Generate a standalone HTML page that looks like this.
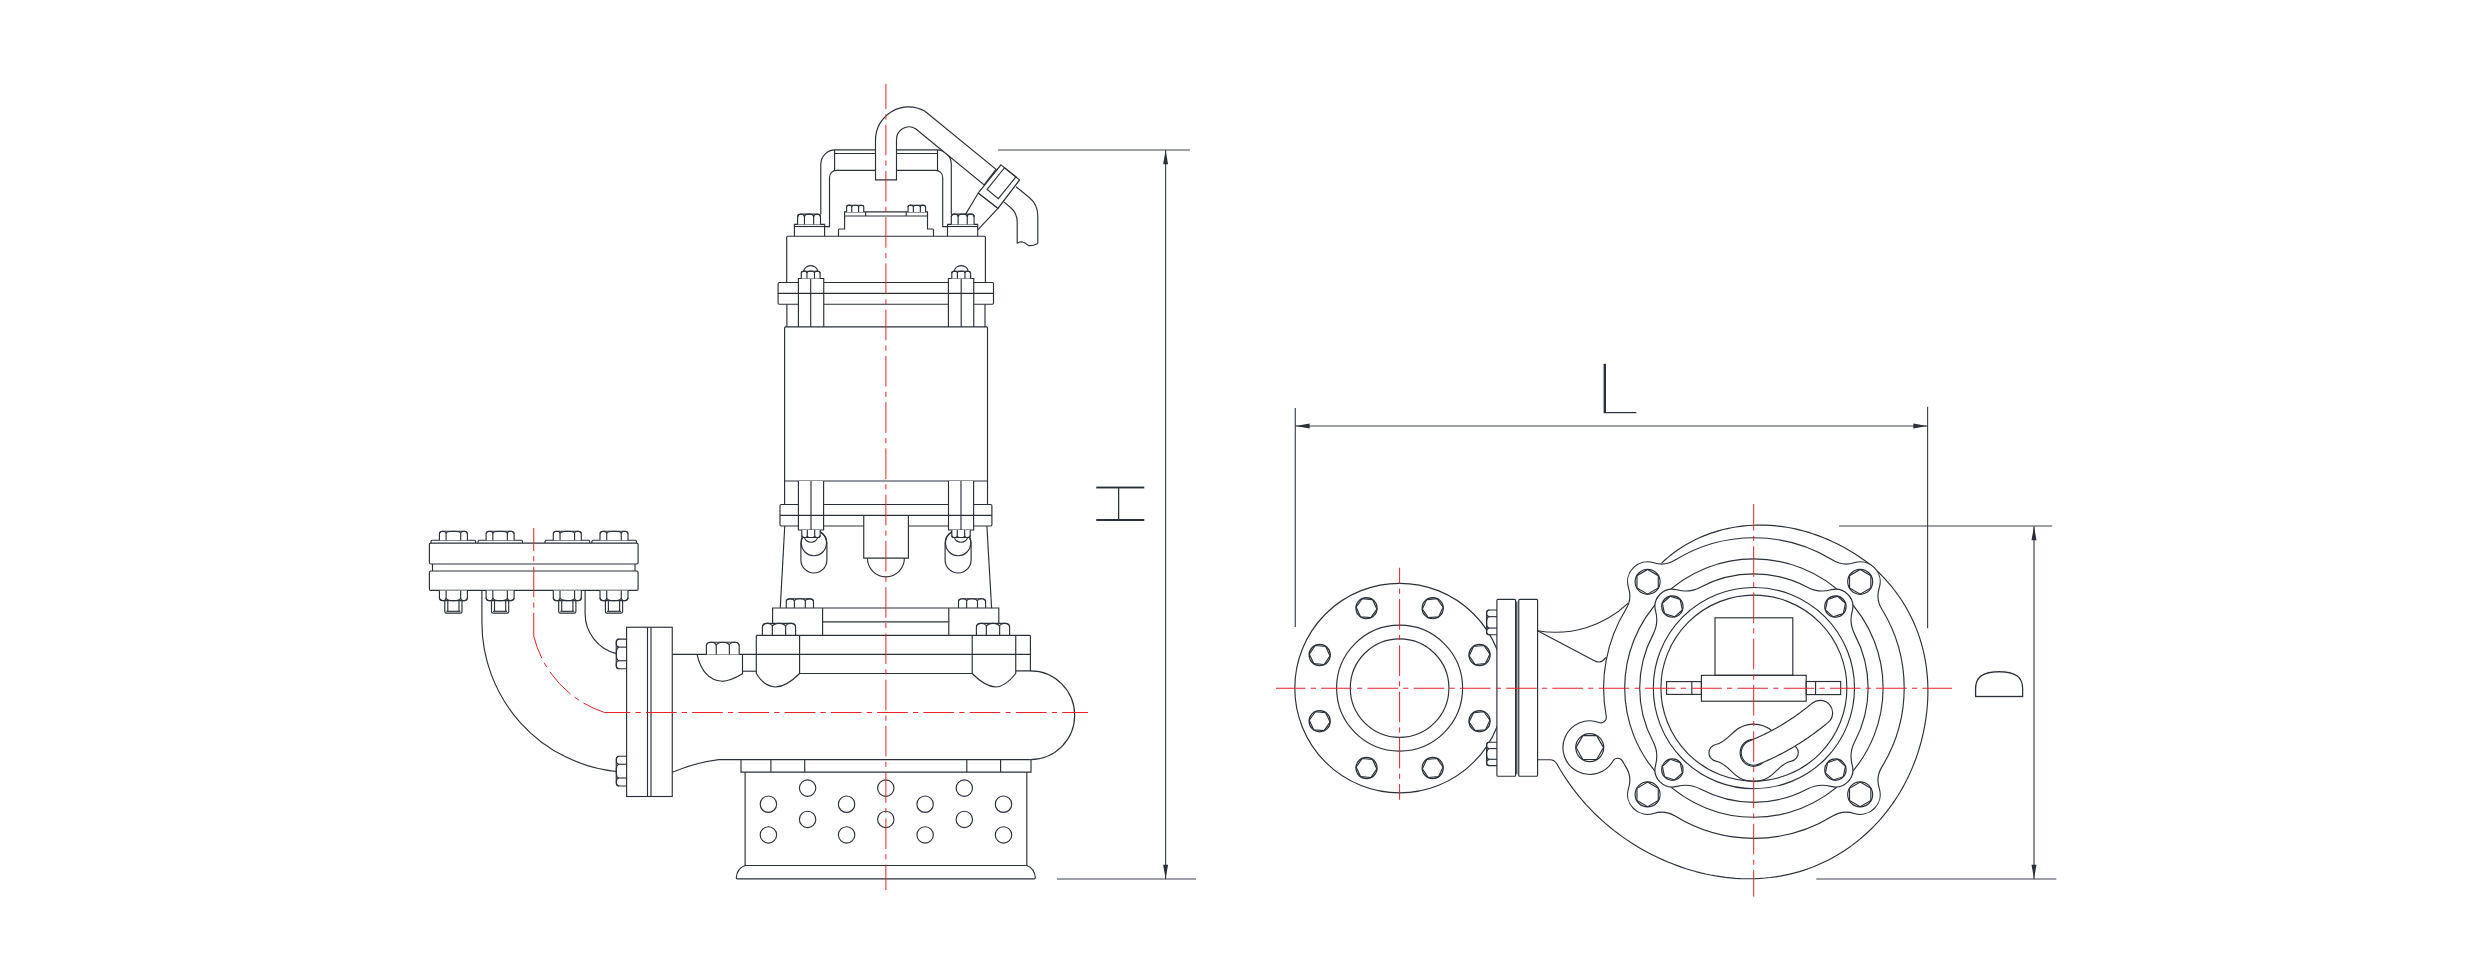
<!DOCTYPE html>
<html><head><meta charset="utf-8"><title>Pump dimensions</title>
<style>html,body{margin:0;padding:0;background:#fff}body{width:2488px;height:971px;overflow:hidden}svg{display:block}
text{font-family:"DejaVu Sans Light","DejaVu Sans","Liberation Sans",sans-serif;font-weight:200;fill:#2a3038;stroke:#fff;stroke-width:1.4px}</style></head>
<body>
<svg width="2488" height="971" viewBox="0 0 2488 971">
<g fill="none" stroke="#2a3038" stroke-width="1.15" stroke-linecap="butt">
<path d="M820.8,214.5 V164.2 A14.4,14.4 0 0 1 835.2,149.9 H936.9 A14.4,14.4 0 0 1 951.3,164.2 V214.5" fill="none"/>
<path d="M824.6,226.6 H829.5 V177.4 A7,7 0 0 1 836.5,170.4 H935.7 A7,7 0 0 1 942.7,177.4 V226.6 H947.5" fill="none"/>
<path d="M834.6,150L834.6,170.4" fill="none"/>
<path d="M937.5,150L937.5,170.4" fill="none"/>
<path d="M834.6,153.5L937.5,153.5" fill="none"/>
<path d="M1001,164.9 L978.3,193 L965.5,214.4" fill="none"/>
<path d="M1019.5,179.9 L997.9,208.3 L978,229.7" fill="none"/>
<path d="M978.3,193L997.9,208.3" fill="none"/>
<path d="M875.5,179.8 V140.3 A33,33 0 0 1 925,111.3 L996,169.3 L984.2,184.9 L915.6,128.75 A12.5,12.5 0 0 0 896.5,139.5 V179.8 Z" fill="white"/>
<path d="M1016,186.7 L1029,197.3 Q1037.8,204.5 1037.8,216 V243.4" fill="none"/>
<path d="M1003.8,201.9 L1010,207 Q1017.2,212.8 1017.2,222 V243.4" fill="none"/>
<path d="M1017.2,243.4 Q1019.5,241.3 1022.5,242 T1028.5,245.6 Q1033,246 1037.8,243.4" fill="none"/>
<path d="M1001,164.9 L1019.5,179.9 L997.9,208.3 L978.3,193 Z" fill="white" stroke-linejoin="round"/>
<path d="M1004.5,167.7 L1016,176.9 L998.3,198.6 L987.1,189.5 Z" fill="none"/>
<path d="M794.4,236.25 V224.4 H824.6 V236.25" fill="white"/>
<path d="M794.4,226.5L824.6,226.5" fill="none"/>
<path d="M797.6,224.4 V216.85 Q797.6,214.1 800.35,214.1 H817.75 Q820.5,214.1 820.5,216.85 V224.4" fill="white"/>
<path d="M797.6,216.98 A3.44,2.88 0 0 1 804.47,216.98" fill="none"/>
<path d="M804.47,216.98 A4.58,2.88 0 0 1 813.63,216.98" fill="none"/>
<path d="M813.63,216.98 A3.44,2.88 0 0 1 820.5,216.98" fill="none"/>
<path d="M804.47,224.4L804.47,216.98" fill="none"/>
<path d="M813.63,224.4L813.63,216.98" fill="none"/>
<path d="M947.5,236.25 V224.4 H977.7 V236.25" fill="white"/>
<path d="M947.5,226.5L977.7,226.5" fill="none"/>
<path d="M951.3,224.4 V216.84 Q951.3,214.1 954.04,214.1 H971.36 Q974.1,214.1 974.1,216.84 V224.4" fill="white"/>
<path d="M951.3,216.98 A3.42,2.88 0 0 1 958.14,216.98" fill="none"/>
<path d="M958.14,216.98 A4.56,2.88 0 0 1 967.26,216.98" fill="none"/>
<path d="M967.26,216.98 A3.42,2.88 0 0 1 974.1,216.98" fill="none"/>
<path d="M958.14,224.4L958.14,216.98" fill="none"/>
<path d="M967.26,224.4L967.26,216.98" fill="none"/>
<path d="M838.5,236.25 V230 Q838.5,229 839.5,229 H844.6 V211.9 H927.5 V229 H932.5 Q933.5,229 933.5,230 V236.25" fill="none"/>
<path d="M844.6,216L927.5,216" fill="none"/>
<path d="M865.6,211.9L865.6,216" fill="none"/>
<path d="M906.25,211.9L906.25,216" fill="none"/>
<path d="M846.6,211.9 V207.26 Q846.6,205.2 848.66,205.2 H861.69 Q863.75,205.2 863.75,207.26 V211.9" fill="white"/>
<path d="M846.6,207.08 A2.57,1.88 0 0 1 851.75,207.08" fill="none"/>
<path d="M851.75,207.08 A3.43,1.88 0 0 1 858.61,207.08" fill="none"/>
<path d="M858.61,207.08 A2.57,1.88 0 0 1 863.75,207.08" fill="none"/>
<path d="M851.75,211.9L851.75,207.08" fill="none"/>
<path d="M858.61,211.9L858.61,207.08" fill="none"/>
<path d="M908.1,211.9 V207.3 Q908.1,205.2 910.2,205.2 H923.5 Q925.6,205.2 925.6,207.3 V211.9" fill="white"/>
<path d="M908.1,207.08 A2.62,1.88 0 0 1 913.35,207.08" fill="none"/>
<path d="M913.35,207.08 A3.5,1.88 0 0 1 920.35,207.08" fill="none"/>
<path d="M920.35,207.08 A2.62,1.88 0 0 1 925.6,207.08" fill="none"/>
<path d="M913.35,211.9L913.35,207.08" fill="none"/>
<path d="M920.35,211.9L920.35,207.08" fill="none"/>
<path d="M786.7,282.5 V237.25 Q786.7,236.25 787.7,236.25 H984.4 Q985.4,236.25 985.4,237.25 V282.5" fill="none"/>
<rect x="778.1" y="282.5" width="215.4" height="21.7" rx="1.2" fill="none"/>
<path d="M786.9,304.2L786.9,326.9" fill="none"/>
<path d="M985,304.2L985,326.9" fill="none"/>
<path d="M798.4,326.9 V278.5 H823.75 V326.9" fill="white"/>
<path d="M810.7,278.5L810.7,326.9" fill="none"/>
<path d="M803.7,271.6 A7,6 0 0 1 817.7,271.6" fill="none"/>
<path d="M801.3,278.5 V273.46 Q801.3,271.2 803.56,271.2 H817.84 Q820.1,271.2 820.1,273.46 V278.5" fill="white"/>
<path d="M801.3,273.24 A2.82,2.04 0 0 1 806.94,273.24" fill="none"/>
<path d="M806.94,273.24 A3.76,2.04 0 0 1 814.46,273.24" fill="none"/>
<path d="M814.46,273.24 A2.82,2.04 0 0 1 820.1,273.24" fill="none"/>
<path d="M806.94,278.5L806.94,273.24" fill="none"/>
<path d="M814.46,278.5L814.46,273.24" fill="none"/>
<path d="M948.4,326.9 V278.5 H973.75 V326.9" fill="white"/>
<path d="M961.2,278.5L961.2,326.9" fill="none"/>
<path d="M954.2,271.6 A7,6 0 0 1 968.2,271.6" fill="none"/>
<path d="M951.8,278.5 V273.46 Q951.8,271.2 954.06,271.2 H968.34 Q970.6,271.2 970.6,273.46 V278.5" fill="white"/>
<path d="M951.8,273.24 A2.82,2.04 0 0 1 957.44,273.24" fill="none"/>
<path d="M957.44,273.24 A3.76,2.04 0 0 1 964.96,273.24" fill="none"/>
<path d="M964.96,273.24 A2.82,2.04 0 0 1 970.6,273.24" fill="none"/>
<path d="M957.44,278.5L957.44,273.24" fill="none"/>
<path d="M964.96,278.5L964.96,273.24" fill="none"/>
<path d="M778.1,293.3L993.5,293.3" fill="none"/>
<path d="M784.6,504.5 V327.9 Q784.6,326.9 785.6,326.9 H986.5 Q987.5,326.9 987.5,327.9 V504.5" fill="none"/>
<path d="M784.6,481L987.5,481" fill="none"/>
<path d="M800.9,543.1 A13,13 0 0 1 826.9,543.1 V560 A13,13 0 0 1 800.9,560 Z" fill="none"/>
<circle cx="813.9" cy="543.1" r="12.6" fill="none"/>
<path d="M945.1,543.1 A13,13 0 0 1 971.1,543.1 V560 A13,13 0 0 1 945.1,560 Z" fill="none"/>
<circle cx="958.1" cy="543.1" r="12.6" fill="none"/>
<rect x="780" y="504.5" width="211.9" height="21.5" rx="1.2" fill="white"/>
<path d="M863.75,515.4 V558.1 H908.4 V515.4" fill="white"/>
<path d="M867.4,558.1 A18.5,18.8 0 0 0 904.4,558.1" fill="none"/>
<path d="M798.4,481 V530 H823.6 V481" fill="white"/>
<path d="M811,481L811,530" fill="none"/>
<path d="M804.5,537.2 A6.5,5 0 0 0 817.5,537.2" fill="white"/>
<path d="M801.8,530 V535.29 Q801.8,537.5 804.01,537.5 H817.99 Q820.2,537.5 820.2,535.29 V530" fill="white"/>
<path d="M801.8,535.4 A2.76,2.1 0 0 0 807.32,535.4" fill="none"/>
<path d="M807.32,535.4 A3.68,2.1 0 0 0 814.68,535.4" fill="none"/>
<path d="M814.68,535.4 A2.76,2.1 0 0 0 820.2,535.4" fill="none"/>
<path d="M807.32,530L807.32,535.4" fill="none"/>
<path d="M814.68,530L814.68,535.4" fill="none"/>
<path d="M948.5,481 V530 H973.6 V481" fill="white"/>
<path d="M961,481L961,530" fill="none"/>
<path d="M954.5,537.2 A6.5,5 0 0 0 967.5,537.2" fill="white"/>
<path d="M951.8,530 V535.29 Q951.8,537.5 954.01,537.5 H967.99 Q970.2,537.5 970.2,535.29 V530" fill="white"/>
<path d="M951.8,535.4 A2.76,2.1 0 0 0 957.32,535.4" fill="none"/>
<path d="M957.32,535.4 A3.68,2.1 0 0 0 964.68,535.4" fill="none"/>
<path d="M964.68,535.4 A2.76,2.1 0 0 0 970.2,535.4" fill="none"/>
<path d="M957.32,530L957.32,535.4" fill="none"/>
<path d="M964.68,530L964.68,535.4" fill="none"/>
<path d="M780,515.4L991.9,515.4" fill="none"/>
<path d="M784.75,526L780.25,608.1" fill="none"/>
<path d="M986.9,526L991.6,608.1" fill="none"/>
<path d="M786.25,608 V602.02 Q786.25,598.75 789.52,598.75 H810.23 Q813.5,598.75 813.5,602.02 V608" fill="white"/>
<path d="M786.25,601.34 A4.09,2.59 0 0 1 794.42,601.34" fill="none"/>
<path d="M794.42,601.34 A5.45,2.59 0 0 1 805.33,601.34" fill="none"/>
<path d="M805.33,601.34 A4.09,2.59 0 0 1 813.5,601.34" fill="none"/>
<path d="M794.42,608L794.42,601.34" fill="none"/>
<path d="M805.33,608L805.33,601.34" fill="none"/>
<path d="M958.5,608 V602 Q958.5,598.75 961.75,598.75 H982.35 Q985.6,598.75 985.6,602 V608" fill="white"/>
<path d="M958.5,601.34 A4.06,2.59 0 0 1 966.63,601.34" fill="none"/>
<path d="M966.63,601.34 A5.42,2.59 0 0 1 977.47,601.34" fill="none"/>
<path d="M977.47,601.34 A4.06,2.59 0 0 1 985.6,601.34" fill="none"/>
<path d="M966.63,608L966.63,601.34" fill="none"/>
<path d="M977.47,608L977.47,601.34" fill="none"/>
<path d="M772.6,623.5 V608 H998.8 V623.5" fill="none"/>
<path d="M822.6,608L822.6,635.4" fill="none"/>
<path d="M948.8,608L948.8,635.4" fill="none"/>
<path d="M822.6,621.8L948.8,621.8" fill="none"/>
<path d="M762.4,635.4 V627.38 Q762.4,623.4 766.38,623.4 H791.62 Q795.6,623.4 795.6,627.38 V635.4" fill="white"/>
<path d="M762.4,626.76 A4.98,3.36 0 0 1 772.36,626.76" fill="none"/>
<path d="M772.36,626.76 A6.64,3.36 0 0 1 785.64,626.76" fill="none"/>
<path d="M785.64,626.76 A4.98,3.36 0 0 1 795.6,626.76" fill="none"/>
<path d="M772.36,635.4L772.36,626.76" fill="none"/>
<path d="M785.64,635.4L785.64,626.76" fill="none"/>
<path d="M976.4,635.4 V627.38 Q976.4,623.4 980.38,623.4 H1005.62 Q1009.6,623.4 1009.6,627.38 V635.4" fill="white"/>
<path d="M976.4,626.76 A4.98,3.36 0 0 1 986.36,626.76" fill="none"/>
<path d="M986.36,626.76 A6.64,3.36 0 0 1 999.64,626.76" fill="none"/>
<path d="M999.64,626.76 A4.98,3.36 0 0 1 1009.6,626.76" fill="none"/>
<path d="M986.36,635.4L986.36,626.76" fill="none"/>
<path d="M999.64,635.4L999.64,626.76" fill="none"/>
<path d="M756.3,635.4L1030.4,635.4" fill="none"/>
<path d="M756.3,635.4 V673.5 Q764,686.5 775.4,687 Q786,687 799.6,673.5 V635.4" fill="none"/>
<path d="M972.2,635.4 V673.5 Q985,686.5 995.8,687 Q1005,687 1015.75,673.5 V635.4" fill="none"/>
<path d="M672.25,654.4L1030.4,654.4" fill="none"/>
<path d="M799.6,673.5L972.2,673.5" fill="none"/>
<path d="M1030.4,635.4 V670.9 H1015.75" fill="none"/>
<path d="M1030.4,670.9 A44.35,44.35 0 0 1 1030.4,759.6" fill="none"/>
<path d="M672.25,772.25 Q697,762 718.75,759.6 H1030.4" fill="none"/>
<path d="M706.4,654.4 V646.14 Q706.4,642.2 710.34,642.2 H735.26 Q739.2,642.2 739.2,646.14 V654.4" fill="white"/>
<path d="M706.4,645.62 A4.92,3.42 0 0 1 716.24,645.62" fill="none"/>
<path d="M716.24,645.62 A6.56,3.42 0 0 1 729.36,645.62" fill="none"/>
<path d="M729.36,645.62 A4.92,3.42 0 0 1 739.2,645.62" fill="none"/>
<path d="M716.24,654.4L716.24,645.62" fill="none"/>
<path d="M729.36,654.4L729.36,645.62" fill="none"/>
<path d="M697,654.4 Q703,680 722,681.3 Q730,681.3 742.5,673.8 V654.4" fill="none"/>
<path d="M742.5,671.2L756.3,671.2" fill="none"/>
<path d="M626.6,639.1 H619.22 Q616.25,639.1 616.25,642.07 V665.78 Q616.25,668.75 619.22,668.75 H626.6" fill="white"/>
<path d="M619.15,639.1 A2.9,4 0 0 0 619.15,647.11" fill="none"/>
<path d="M619.15,647.11 A2.9,6.82 0 0 0 619.15,660.74" fill="none"/>
<path d="M619.15,660.74 A2.9,4 0 0 0 619.15,668.75" fill="none"/>
<path d="M626.6,647.11L619.15,647.11" fill="none"/>
<path d="M626.6,660.74L619.15,660.74" fill="none"/>
<path d="M626.6,756.25 H619.23 Q616.25,756.25 616.25,759.23 V783.02 Q616.25,786 619.23,786 H626.6" fill="white"/>
<path d="M619.15,756.25 A2.9,4.02 0 0 0 619.15,764.28" fill="none"/>
<path d="M619.15,764.28 A2.9,6.84 0 0 0 619.15,777.97" fill="none"/>
<path d="M619.15,777.97 A2.9,4.02 0 0 0 619.15,786" fill="none"/>
<path d="M626.6,764.28L619.15,764.28" fill="none"/>
<path d="M626.6,777.97L619.15,777.97" fill="none"/>
<rect x="626.6" y="627.25" width="45.65" height="169.25" fill="none"/>
<path d="M647.5,627.25L647.5,796.5" fill="none"/>
<path d="M651,627.25L651,796.5" fill="none"/>
<path d="M481.9,590.4 V622.5 A150,150 0 0 0 616.25,771.5" fill="none"/>
<path d="M585.1,590.4 V613.4 A41.5,41.5 0 0 0 616.3,653.6" fill="none"/>
<rect x="429.4" y="543.1" width="208.7" height="20.9" rx="1.5" fill="none"/>
<path d="M432.5,564L432.5,571" fill="none"/>
<path d="M635,564L635,571" fill="none"/>
<rect x="429.4" y="571" width="208.7" height="19.4" rx="1.5" fill="none"/>
<path d="M431,543.1 V541.5 Q431,540.25 432.2,540.25 H474.4 Q475.6,540.25 475.6,541.5 V543.1" fill="none"/>
<path d="M478.1,543.1 V541.5 Q478.1,540.25 479.3,540.25 H521.3 Q522.5,540.25 522.5,541.5 V543.1" fill="none"/>
<path d="M545,543.1 V541.5 Q545,540.25 546.2,540.25 H588.55 Q589.75,540.25 589.75,541.5 V543.1" fill="none"/>
<path d="M591.9,543.1 V541.5 Q591.9,540.25 593.1,540.25 H635.3 Q636.5,540.25 636.5,541.5 V543.1" fill="none"/>
<path d="M439.4,540.25 V534.61 Q439.4,531.25 442.76,531.25 H464.04 Q467.4,531.25 467.4,534.61 V540.25" fill="white"/>
<path d="M439.4,533.77 A3.36,2.52 0 0 1 446.12,533.77" fill="none"/>
<path d="M446.12,533.77 A7.28,2.52 0 0 1 460.68,533.77" fill="none"/>
<path d="M460.68,533.77 A3.36,2.52 0 0 1 467.4,533.77" fill="none"/>
<path d="M446.12,540.25L446.12,533.77" fill="none"/>
<path d="M460.68,540.25L460.68,533.77" fill="none"/>
<path d="M439.4,590.4 V597.24 Q439.4,600.6 442.76,600.6 H464.04 Q467.4,600.6 467.4,597.24 V590.4" fill="white"/>
<path d="M439.4,597.74 A3.36,2.86 0 0 0 446.12,597.74" fill="none"/>
<path d="M446.12,597.74 A7.28,2.86 0 0 0 460.68,597.74" fill="none"/>
<path d="M460.68,597.74 A3.36,2.86 0 0 0 467.4,597.74" fill="none"/>
<path d="M446.12,590.4L446.12,597.74" fill="none"/>
<path d="M460.68,590.4L460.68,597.74" fill="none"/>
<path d="M444.8,600.6 V611.5 Q444.8,613.1 446.4,613.1 H460.4 Q462,613.1 462,611.5 V600.6" fill="none"/>
<path d="M447.8,600.6L447.8,611.3" fill="none"/>
<path d="M459,600.6L459,611.3" fill="none"/>
<path d="M446.4,611.3L460.4,611.3" fill="none"/>
<path d="M486.1,540.25 V534.61 Q486.1,531.25 489.46,531.25 H510.74 Q514.1,531.25 514.1,534.61 V540.25" fill="white"/>
<path d="M486.1,533.77 A3.36,2.52 0 0 1 492.82,533.77" fill="none"/>
<path d="M492.82,533.77 A7.28,2.52 0 0 1 507.38,533.77" fill="none"/>
<path d="M507.38,533.77 A3.36,2.52 0 0 1 514.1,533.77" fill="none"/>
<path d="M492.82,540.25L492.82,533.77" fill="none"/>
<path d="M507.38,540.25L507.38,533.77" fill="none"/>
<path d="M486.1,590.4 V597.24 Q486.1,600.6 489.46,600.6 H510.74 Q514.1,600.6 514.1,597.24 V590.4" fill="white"/>
<path d="M486.1,597.74 A3.36,2.86 0 0 0 492.82,597.74" fill="none"/>
<path d="M492.82,597.74 A7.28,2.86 0 0 0 507.38,597.74" fill="none"/>
<path d="M507.38,597.74 A3.36,2.86 0 0 0 514.1,597.74" fill="none"/>
<path d="M492.82,590.4L492.82,597.74" fill="none"/>
<path d="M507.38,590.4L507.38,597.74" fill="none"/>
<path d="M491.5,600.6 V611.5 Q491.5,613.1 493.1,613.1 H507.1 Q508.7,613.1 508.7,611.5 V600.6" fill="none"/>
<path d="M494.5,600.6L494.5,611.3" fill="none"/>
<path d="M505.7,600.6L505.7,611.3" fill="none"/>
<path d="M493.1,611.3L507.1,611.3" fill="none"/>
<path d="M553.3,540.25 V534.61 Q553.3,531.25 556.66,531.25 H577.94 Q581.3,531.25 581.3,534.61 V540.25" fill="white"/>
<path d="M553.3,533.77 A3.36,2.52 0 0 1 560.02,533.77" fill="none"/>
<path d="M560.02,533.77 A7.28,2.52 0 0 1 574.58,533.77" fill="none"/>
<path d="M574.58,533.77 A3.36,2.52 0 0 1 581.3,533.77" fill="none"/>
<path d="M560.02,540.25L560.02,533.77" fill="none"/>
<path d="M574.58,540.25L574.58,533.77" fill="none"/>
<path d="M553.3,590.4 V597.24 Q553.3,600.6 556.66,600.6 H577.94 Q581.3,600.6 581.3,597.24 V590.4" fill="white"/>
<path d="M553.3,597.74 A3.36,2.86 0 0 0 560.02,597.74" fill="none"/>
<path d="M560.02,597.74 A7.28,2.86 0 0 0 574.58,597.74" fill="none"/>
<path d="M574.58,597.74 A3.36,2.86 0 0 0 581.3,597.74" fill="none"/>
<path d="M560.02,590.4L560.02,597.74" fill="none"/>
<path d="M574.58,590.4L574.58,597.74" fill="none"/>
<path d="M558.7,600.6 V611.5 Q558.7,613.1 560.3,613.1 H574.3 Q575.9,613.1 575.9,611.5 V600.6" fill="none"/>
<path d="M561.7,600.6L561.7,611.3" fill="none"/>
<path d="M572.9,600.6L572.9,611.3" fill="none"/>
<path d="M560.3,611.3L574.3,611.3" fill="none"/>
<path d="M600,540.25 V534.61 Q600,531.25 603.36,531.25 H624.64 Q628,531.25 628,534.61 V540.25" fill="white"/>
<path d="M600,533.77 A3.36,2.52 0 0 1 606.72,533.77" fill="none"/>
<path d="M606.72,533.77 A7.28,2.52 0 0 1 621.28,533.77" fill="none"/>
<path d="M621.28,533.77 A3.36,2.52 0 0 1 628,533.77" fill="none"/>
<path d="M606.72,540.25L606.72,533.77" fill="none"/>
<path d="M621.28,540.25L621.28,533.77" fill="none"/>
<path d="M600,590.4 V597.24 Q600,600.6 603.36,600.6 H624.64 Q628,600.6 628,597.24 V590.4" fill="white"/>
<path d="M600,597.74 A3.36,2.86 0 0 0 606.72,597.74" fill="none"/>
<path d="M606.72,597.74 A7.28,2.86 0 0 0 621.28,597.74" fill="none"/>
<path d="M621.28,597.74 A3.36,2.86 0 0 0 628,597.74" fill="none"/>
<path d="M606.72,590.4L606.72,597.74" fill="none"/>
<path d="M621.28,590.4L621.28,597.74" fill="none"/>
<path d="M605.4,600.6 V611.5 Q605.4,613.1 607,613.1 H621 Q622.6,613.1 622.6,611.5 V600.6" fill="none"/>
<path d="M608.4,600.6L608.4,611.3" fill="none"/>
<path d="M619.6,600.6L619.6,611.3" fill="none"/>
<path d="M607,611.3L621,611.3" fill="none"/>
<path d="M741,759.75 V772.1 H1031 V759.75" fill="none"/>
<path d="M770.9,759.75L770.9,772.1" fill="none"/>
<path d="M804.7,759.75L804.7,772.1" fill="none"/>
<path d="M966.8,759.75L966.8,772.1" fill="none"/>
<path d="M1000.6,759.75L1000.6,772.1" fill="none"/>
<path d="M745.1,772.1 V865.5 H1026.8 V772.1" fill="none"/>
<path d="M745.1,865.5 Q736.8,868.5 736.3,877.8 Q736.3,878.8 737.3,878.8 H1034.3 Q1035.3,878.8 1035.3,877.8 Q1034.8,868.5 1026.8,865.5" fill="none"/>
<circle cx="807.6" cy="788.1" r="8.2" fill="none"/>
<circle cx="885.8" cy="788.1" r="8.2" fill="none"/>
<circle cx="964.3" cy="788.1" r="8.2" fill="none"/>
<circle cx="768.4" cy="804.2" r="8.2" fill="none"/>
<circle cx="846.6" cy="804.2" r="8.2" fill="none"/>
<circle cx="925.1" cy="804.2" r="8.2" fill="none"/>
<circle cx="1003.5" cy="804.2" r="8.2" fill="none"/>
<circle cx="807.6" cy="819.4" r="8.2" fill="none"/>
<circle cx="885.8" cy="819.4" r="8.2" fill="none"/>
<circle cx="964.3" cy="819.4" r="8.2" fill="none"/>
<circle cx="768.4" cy="834.9" r="8.2" fill="none"/>
<circle cx="846.6" cy="834.9" r="8.2" fill="none"/>
<circle cx="925.1" cy="834.9" r="8.2" fill="none"/>
<circle cx="1003.5" cy="834.9" r="8.2" fill="none"/>
<circle cx="1399.6" cy="688.1" r="104.8" fill="none"/>
<path d="M1496.9,610 H1489.07 Q1486.6,610 1486.6,612.48 V632.27 Q1486.6,634.75 1489.07,634.75 H1496.9" fill="white"/>
<path d="M1489.48,610 A2.88,3.34 0 0 0 1489.48,616.68" fill="none"/>
<path d="M1489.48,616.68 A2.88,5.69 0 0 0 1489.48,628.07" fill="none"/>
<path d="M1489.48,628.07 A2.88,3.34 0 0 0 1489.48,634.75" fill="none"/>
<path d="M1496.9,616.68L1489.48,616.68" fill="none"/>
<path d="M1496.9,628.07L1489.48,628.07" fill="none"/>
<path d="M1496.9,742.25 H1488.93 Q1486.6,742.25 1486.6,744.59 V763.26 Q1486.6,765.6 1488.93,765.6 H1496.9" fill="white"/>
<path d="M1489.48,742.25 A2.88,3.15 0 0 0 1489.48,748.55" fill="none"/>
<path d="M1489.48,748.55 A2.88,5.37 0 0 0 1489.48,759.3" fill="none"/>
<path d="M1489.48,759.3 A2.88,3.15 0 0 0 1489.48,765.6" fill="none"/>
<path d="M1496.9,748.55L1489.48,748.55" fill="none"/>
<path d="M1496.9,759.3L1489.48,759.3" fill="none"/>
<rect x="1496.9" y="599.4" width="18.7" height="176.85" rx="1" fill="white"/>
<rect x="1518.75" y="599.4" width="18.85" height="176.85" rx="1" fill="white"/>
<path d="M1516.8,601.5L1516.8,774.2" fill="none"/>
<circle cx="1399.6" cy="688.1" r="63" fill="none"/>
<circle cx="1399.6" cy="688.1" r="49.3" fill="none"/>
<circle cx="1479.52" cy="721.2" r="10.6" fill="none"/>
<path d="M1489.92,720.29L1485.5,729.75L1475.1,730.66L1469.11,722.11L1473.53,712.65L1483.93,711.74Z" fill="none"/>
<circle cx="1432.7" cy="768.02" r="10.6" fill="none"/>
<path d="M1443.1,767.11L1438.69,776.57L1428.29,777.48L1422.3,768.93L1426.71,759.46L1437.11,758.55Z" fill="none"/>
<circle cx="1366.5" cy="768.02" r="10.6" fill="none"/>
<path d="M1376.9,768.93L1370.91,777.48L1360.51,776.57L1356.1,767.11L1362.09,758.55L1372.49,759.46Z" fill="none"/>
<circle cx="1319.68" cy="721.2" r="10.6" fill="none"/>
<path d="M1330.09,722.11L1324.1,730.66L1313.7,729.75L1309.28,720.29L1315.27,711.74L1325.67,712.65Z" fill="none"/>
<circle cx="1319.68" cy="655" r="10.6" fill="none"/>
<path d="M1330.09,655.91L1324.1,664.46L1313.7,663.55L1309.28,654.09L1315.27,645.54L1325.67,646.45Z" fill="none"/>
<circle cx="1366.5" cy="608.18" r="10.6" fill="none"/>
<path d="M1376.9,609.09L1370.91,617.65L1360.51,616.74L1356.1,607.27L1362.09,598.72L1372.49,599.63Z" fill="none"/>
<circle cx="1432.7" cy="608.18" r="10.6" fill="none"/>
<path d="M1443.1,607.27L1438.69,616.74L1428.29,617.65L1422.3,609.09L1426.71,599.63L1437.11,598.72Z" fill="none"/>
<circle cx="1479.52" cy="655" r="10.6" fill="none"/>
<path d="M1489.92,654.09L1485.5,663.55L1475.1,664.46L1469.11,655.91L1473.53,646.45L1483.93,645.54Z" fill="none"/>
<path d="M1661.59,563.09 L1664.6,560.29 L1667.71,557.59 L1670.91,554.99 L1674.2,552.48 L1677.57,550.07 L1681.02,547.76 L1684.55,545.55 L1688.16,543.45 L1691.83,541.46 L1695.57,539.58 L1699.37,537.81 L1703.23,536.14 L1707.14,534.6 L1711.1,533.16 L1715.11,531.84 L1719.16,530.64 L1723.25,529.55 L1727.37,528.58 L1731.53,527.73 L1735.71,526.99 L1739.92,526.37 L1744.14,525.87 L1748.39,525.49 L1752.64,525.22 L1756.91,525.07 L1761.18,525.04 L1765.46,525.12 L1769.74,525.32 L1774.02,525.63 L1778.29,526.06 L1782.55,526.59 L1786.8,527.25 L1791.03,528.01 L1795.25,528.88 L1799.45,529.86 L1803.62,530.95 L1807.78,532.14 L1811.9,533.44 L1816,534.84 L1820.07,536.34 L1824.11,537.93 L1828.11,539.62 L1832.09,541.41 L1836.02,543.29 L1839.93,545.26 L1843.79,547.31 L1847.62,549.46 L1851.41,551.69 L1855.16,554 L1858.87,556.41 L1862.51,558.92 L1866.08,561.56 L1869.56,564.32 L1872.95,567.2 L1876.25,570.18 L1879.48,573.26 L1882.62,576.43 L1885.68,579.69 L1888.65,583.04 L1891.53,586.47 L1894.32,589.99 L1897.01,593.58 L1899.6,597.26 L1902.1,601.01 L1904.49,604.83 L1906.77,608.72 L1908.94,612.67 L1911.01,616.69 L1912.96,620.77 L1914.79,624.91 L1916.51,629.1 L1918.1,633.34 L1919.58,637.63 L1920.93,641.96 L1922.16,646.33 L1923.27,650.73 L1924.26,655.16 L1925.13,659.62 L1925.88,664.11 L1926.51,668.61 L1927.02,673.13 L1927.41,677.66 L1927.69,682.21 L1927.85,686.76 L1927.9,691.31 L1927.83,695.87 L1927.66,700.43 L1927.37,704.98 L1926.98,709.53 L1926.48,714.07 L1925.87,718.6 L1925.17,723.12 L1924.35,727.63 L1923.44,732.13 L1922.43,736.61 L1921.32,741.07 L1920.1,745.52 L1918.79,749.94 L1917.37,754.34 L1915.84,758.71 L1914.21,763.05 L1912.48,767.37 L1910.64,771.64 L1908.7,775.89 L1906.65,780.09 L1904.49,784.25 L1902.23,788.37 L1899.86,792.43 L1897.38,796.45 L1894.8,800.41 L1892.11,804.31 L1889.32,808.15 L1886.42,811.93 L1883.42,815.64 L1880.32,819.27 L1877.11,822.84 L1873.81,826.32 L1870.4,829.72 L1866.9,833.03 L1863.3,836.26 L1859.61,839.39 L1855.82,842.43 L1851.95,845.37 L1847.99,848.2 L1843.94,850.92 L1839.81,853.54 L1835.6,856.04 L1831.31,858.43 L1826.95,860.69 L1822.52,862.83 L1818.03,864.84 L1813.47,866.73 L1808.85,868.48 L1804.17,870.1 L1799.45,871.58 L1794.68,872.92 L1789.86,874.12 L1785.01,875.18 L1780.13,876.1 L1775.22,876.89 L1770.28,877.53 L1765.33,878.05 L1760.35,878.42 L1755.37,878.66 L1750.38,878.77 L1745.38,878.75 L1740.39,878.59 L1735.39,878.31 L1730.4,877.89 L1725.42,877.36 L1720.45,876.69 L1715.49,875.91 L1710.55,875 L1705.63,873.97 L1700.73,872.83 L1695.85,871.57 L1690.99,870.19 L1686.17,868.71 L1681.37,867.11 L1676.6,865.4 L1671.85,863.58 L1667.15,861.66 L1662.47,859.64 L1657.83,857.5 L1653.23,855.27 L1648.66,852.93 L1644.14,850.48 L1639.65,847.92 L1635.22,845.26 L1630.83,842.5 L1626.5,839.62 L1622.21,836.64 L1617.99,833.55 L1613.82,830.36 L1609.72,827.06 L1605.67,823.65 L1601.7,820.13 L1597.8,816.52 L1593.97,812.79 L1590.22,808.96 L1586.54,805.03 L1582.96,801 L1579.45,796.86 L1576.04,792.63 L1572.72,788.29 L1569.49,783.86 L1566.37,779.33 L1563.35,774.71 L1560.43,769.99 L1557.62,765.19 L1556.83,763.78 Q1554.3,759.75 1550,759.75 H1537.6" fill="none" stroke-linejoin="round"/>
<path d="M1537.6,630.7 A105.5,105.5 0 0 0 1628.2,603.2" fill="none"/>
<path d="M1537.6,630.7 L1593.4,660.2 Q1599.5,663.6 1603,660.5 L1605.9,657.5" fill="none"/>
<path d="M1625.9,609.32 A26,26 0 0 0 1628.55,587.85 A20,20 0 0 1 1653.65,562.75 A26,26 0 0 0 1675.12,560.1 A150.3,150.3 0 0 1 1832.68,560.1 A26,26 0 0 0 1854.15,562.75 A20,20 0 0 1 1879.25,587.85 A26,26 0 0 0 1881.9,609.32 A150.3,150.3 0 0 1 1881.9,766.88 A26,26 0 0 0 1879.25,788.35 A20,20 0 0 1 1854.15,813.45 A26,26 0 0 0 1832.68,816.1 A150.3,150.3 0 0 1 1675.12,816.1 A26,26 0 0 0 1653.65,813.45 A20,20 0 0 1 1628.55,788.35 A26,26 0 0 0 1625.9,766.88 A150.3,150.3 0 0 1 1622.52,761.1 A5.5,5.5 0 0 0 1612.95,761.02 A26.8,26.8 0 1 1 1598.96,722.43 A5.5,5.5 0 0 0 1606.26,716.24 A150.3,150.3 0 0 1 1625.9,609.32Z" fill="white"/>
<circle cx="1753.9" cy="688.1" r="129.2" fill="none"/>
<path d="M1653,634.61 A32,32 0 0 0 1655.59,611.17 A17.4,17.4 0 0 1 1676.97,589.79 A32,32 0 0 0 1700.41,587.2 A114.2,114.2 0 0 1 1807.39,587.2 A32,32 0 0 0 1830.83,589.79 A17.4,17.4 0 0 1 1852.21,611.17 A32,32 0 0 0 1854.8,634.61 A114.2,114.2 0 0 1 1854.8,741.59 A32,32 0 0 0 1852.21,765.03 A17.4,17.4 0 0 1 1830.83,786.41 A32,32 0 0 0 1807.39,789 A114.2,114.2 0 0 1 1700.41,789 A32,32 0 0 0 1676.97,786.41 A17.4,17.4 0 0 1 1655.59,765.03 A32,32 0 0 0 1653,741.59 A114.2,114.2 0 0 1 1653,634.61Z" fill="white"/>
<circle cx="1753.9" cy="688.1" r="100.6" fill="none"/>
<circle cx="1753.9" cy="688.1" r="93" fill="none"/>
<circle cx="1647.62" cy="581.82" r="12.5" fill="none"/>
<path d="M1647.62,569.51L1658.28,575.67L1658.28,587.98L1647.62,594.13L1636.96,587.98L1636.96,575.67Z" fill="none"/>
<circle cx="1672.37" cy="606.57" r="10.7" fill="none"/>
<path d="M1682.39,609.83L1674.56,616.88L1664.54,613.62L1662.35,603.31L1670.18,596.26L1680.2,599.52Z" fill="none"/>
<circle cx="1860.18" cy="581.82" r="12.5" fill="none"/>
<path d="M1860.18,569.51L1870.84,575.67L1870.84,587.98L1860.18,594.13L1849.52,587.98L1849.52,575.67Z" fill="none"/>
<circle cx="1835.43" cy="606.57" r="10.7" fill="none"/>
<path d="M1845.45,603.31L1843.26,613.62L1833.24,616.88L1825.41,609.83L1827.6,599.52L1837.62,596.26Z" fill="none"/>
<circle cx="1860.18" cy="794.38" r="12.5" fill="none"/>
<path d="M1860.18,782.07L1870.84,788.22L1870.84,800.53L1860.18,806.69L1849.52,800.53L1849.52,788.22Z" fill="none"/>
<circle cx="1835.43" cy="769.63" r="10.7" fill="none"/>
<path d="M1845.45,766.37L1843.26,776.68L1833.24,779.94L1825.41,772.89L1827.6,762.58L1837.62,759.32Z" fill="none"/>
<circle cx="1647.62" cy="794.38" r="12.5" fill="none"/>
<path d="M1647.62,782.07L1658.28,788.22L1658.28,800.53L1647.62,806.69L1636.96,800.53L1636.96,788.22Z" fill="none"/>
<circle cx="1672.37" cy="769.63" r="10.7" fill="none"/>
<path d="M1682.39,772.89L1674.56,779.94L1664.54,776.68L1662.35,766.37L1670.18,759.32L1680.2,762.58Z" fill="none"/>
<circle cx="1589.75" cy="747.6" r="14" fill="none"/>
<path d="M1603.54,747.6L1596.64,759.54L1582.86,759.54L1575.96,747.6L1582.86,735.66L1596.64,735.66Z" fill="none"/>
<rect x="1715" y="617.8" width="77.8" height="57.5" fill="none"/>
<rect x="1701.4" y="675.3" width="104.8" height="25.9" fill="none"/>
<rect x="1666.6" y="681.6" width="34.8" height="12.8" fill="none"/>
<path d="M1691.8,681.6L1691.8,694.4" fill="none"/>
<rect x="1806.2" y="681.5" width="34.5" height="13.1" fill="none"/>
<path d="M1815.6,681.5L1815.6,694.6" fill="none"/>
<path d="M1734.4,731.47 A28.7,28.7 0 0 1 1772.8,731.47 C1778.75,736.82 1783.48,743.14 1791.36,744.53 A8.4,8.4 0 0 1 1791.36,761.07 C1783.48,762.46 1778.75,768.78 1772.8,774.13 A28.7,28.7 0 0 1 1734.4,774.13 C1728.45,768.78 1723.72,762.46 1715.84,761.07 A8.4,8.4 0 0 1 1715.84,744.53 C1723.72,743.14 1728.45,736.82 1734.4,731.47Z" fill="none"/>
<circle cx="1753.6" cy="752.8" r="13.5" fill="none"/>
<path d="M1748.92,741.21 L1750.63,740.51 L1752.34,739.8 L1754.04,739.07 L1755.74,738.33 L1757.43,737.57 L1759.12,736.81 L1760.8,736.03 L1762.47,735.23 L1764.14,734.43 L1765.8,733.61 L1767.45,732.77 L1769.1,731.93 L1770.74,731.07 L1772.37,730.2 L1774,729.31 L1775.62,728.42 L1777.23,727.51 L1778.84,726.58 L1780.44,725.65 L1782.03,724.7 L1783.61,723.74 L1785.19,722.77 L1786.76,721.78 L1788.32,720.79 L1789.87,719.78 L1791.41,718.76 L1792.95,717.72 L1794.48,716.68 L1796,715.62 L1797.51,714.55 L1799.01,713.47 L1800.51,712.38 L1802,711.27 L1803.47,710.16 L1804.94,709.03 L1806.4,707.89 L1807.85,706.74 L1809.29,705.57 L1810.73,704.4 L1812.15,703.22 A12.5,12.5 0 0 1 1828.22,722.37 L1826.65,723.68 L1825.06,724.98 L1823.47,726.26 L1821.86,727.53 L1820.25,728.79 L1818.62,730.04 L1816.99,731.28 L1815.34,732.5 L1813.69,733.71 L1812.03,734.9 L1810.36,736.09 L1808.68,737.26 L1806.98,738.41 L1805.29,739.56 L1803.58,740.69 L1801.86,741.8 L1800.13,742.9 L1798.4,743.99 L1796.66,745.07 L1794.9,746.13 L1793.14,747.18 L1791.38,748.21 L1789.6,749.23 L1787.82,750.24 L1786.03,751.23 L1784.23,752.21 L1782.42,753.17 L1780.6,754.12 L1778.78,755.06 L1776.95,755.98 L1775.12,756.89 L1773.27,757.78 L1771.42,758.66 L1769.56,759.52 L1767.7,760.37 L1765.83,761.2 L1763.95,762.02 L1762.07,762.83 L1760.18,763.62 L1758.28,764.39 A12.5,12.5 0 0 1 1748.92,741.21 Z" fill="white" stroke-linejoin="round"/>
</g>
<g fill="none" stroke="#3d434b" stroke-width="1.15">
<path d="M998,150H1190"/>
<path d="M1057,879H1196"/>
<path d="M1165.6,150V879"/>
<path d="M1165.6,150.3L1168.1,164.3L1163.1,164.3Z" fill="#2a3038" stroke="none"/>
<path d="M1165.6,878.7L1163.1,864.7L1168.1,864.7Z" fill="#2a3038" stroke="none"/>
<path d="M1295.3,407.9V627.1"/>
<path d="M1927.6,406.8V628.2"/>
<path d="M1295.3,426H1927.6"/>
<path d="M1295.6,426L1309.6,423.5L1309.6,428.5Z" fill="#2a3038" stroke="none"/>
<path d="M1927.3,426L1913.3,428.5L1913.3,423.5Z" fill="#2a3038" stroke="none"/>
<path d="M1839,526H2052.2"/>
<path d="M1816.25,879H2056.3"/>
<path d="M2034,526V879"/>
<path d="M2034,526.3L2036.5,540.3L2031.5,540.3Z" fill="#2a3038" stroke="none"/>
<path d="M2034,878.7L2031.5,864.7L2036.5,864.7Z" fill="#2a3038" stroke="none"/>
</g>
<g fill="none" stroke="#e6232d" stroke-width="1" stroke-dasharray="30.65 5.2 5.2 5.2">
<path d="M885.9,83.7L885.9,890" stroke-dashoffset="5.3"/>
<path d="M533.75,528L533.75,636" stroke-dashoffset="7.57"/>
<path d="M533.75,636 A107,107 0 0 0 604.5,712.5" stroke-dashoffset="6.95"/>
<path d="M604.5,712.5L1088,712.5" stroke-dashoffset="4.83"/>
<path d="M1276,688.25L1952,688.25" stroke-dashoffset="1.08"/>
<path d="M1399.6,567.75L1399.6,799.75" stroke-dashoffset="14.95"/>
<path d="M1753.7,504L1753.7,896.6" stroke-dashoffset="4.02"/>
</g>
<text transform="translate(1592.2,413.6) scale(1.23,1)" font-size="69.5">L</text>
<text transform="translate(1144.8,530.5) rotate(-90) scale(1.051,1)" font-size="68">H</text>
<text transform="translate(2024.4,703.6) rotate(-90) scale(0.708,1)" font-size="68">D</text>
</svg>
</body></html>
